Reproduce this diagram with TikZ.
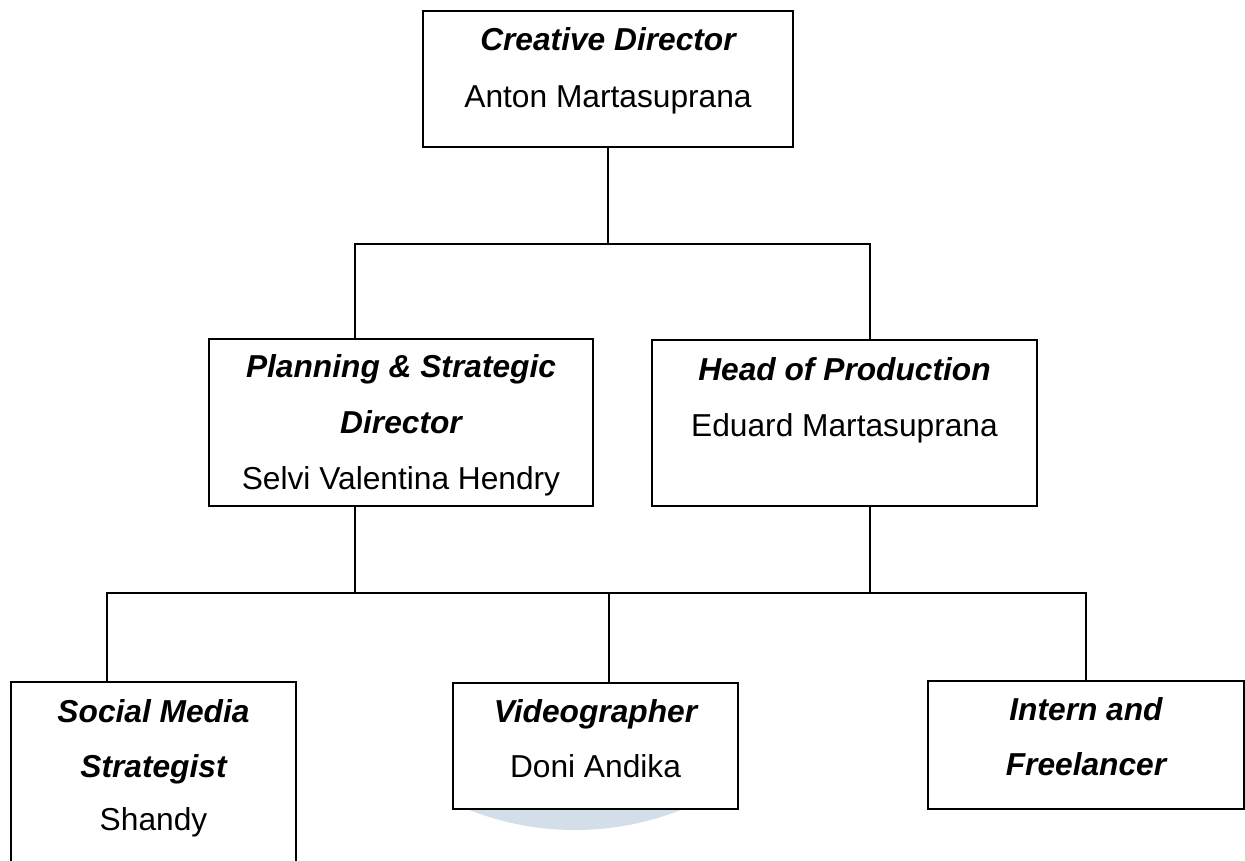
\documentclass[tikz,border=0pt]{standalone}
\usepackage{fontspec}
\setmainfont{Liberation Sans}
\begin{document}
\begin{tikzpicture}[x=1pt,y=-1pt,
  box/.style={draw, line width=1.3pt, inner sep=0pt},
  ln/.style={line width=1.2pt},
  tt/.style={anchor=base, inner sep=0pt, font=\fontsize{31.7}{38}\selectfont\bfseries\itshape},
  nm/.style={anchor=base, inner sep=0pt, font=\fontsize{31.7}{38}\selectfont},
  wm/.style={fill={rgb,255:red,211;green,222;blue,232}}]
\useasboundingbox (0,0) rectangle (1245,860);
\clip (0,0) rectangle (1245,860);
% faint watermark arc
\begin{scope}
  \clip (0,809) rectangle (1245,860);
  \fill[wm] (575,542) circle[radius=288pt];
\end{scope}
% boxes
\node[box, minimum width=370pt, minimum height=136pt] (cd) at (608,79) {};
\node[box, minimum width=384pt, minimum height=167pt] (ps) at (401,422.5) {};
\node[box, minimum width=385pt, minimum height=166pt] (hp) at (844.5,423) {};
\node[box, minimum width=285pt, minimum height=198pt] (sm) at (153.5,781) {};
\node[box, minimum width=285pt, minimum height=126pt] (vg) at (595.5,746) {};
\node[box, minimum width=316pt, minimum height=128pt] (il) at (1086,745) {};
% texts
\node[tt] (cd1) at (608,50) {Creative Director};
\node[nm] (cd2) at (608,107) {Anton Martasuprana};
\node[tt] (ps1) at (401,377) {Planning \& Strategic};
\node[tt] (ps2) at (401,433) {Director};
\node[nm] (ps3) at (401,489) {Selvi Valentina Hendry};
\node[tt] (hp1) at (844.5,380) {Head of Production};
\node[nm] (hp2) at (844.5,436) {Eduard Martasuprana};
\node[tt] (sm1) at (153.5,722) {Social Media};
\node[tt] (sm2) at (153.5,777) {Strategist};
\node[nm] (sm3) at (153.5,830) {Shandy};
\node[tt] (vg1) at (595.5,722) {Videographer};
\node[nm] (vg2) at (595.5,777) {Doni Andika};
\node[tt] (il1) at (1086,720) {Intern and};
\node[tt] (il2) at (1086,775) {Freelancer};
% connectors
\coordinate (j1) at (608,244);
\coordinate (b1) at (355,244);
\coordinate (b2) at (870,244);
\draw[ln] (cd.south) -- (j1);
\draw[ln] (ps.north -| b1) |- (b2) -- (b2 |- hp.north);
\coordinate (c1) at (107,593);
\coordinate (c2) at (1086,593);
\coordinate (c3) at (355,593);
\coordinate (c4) at (870,593);
\coordinate (c5) at (609,593);
\draw[ln] (sm.north -| c1) |- (c2) -- (c2 |- il.north);
\draw[ln] (ps.south -| c3) -- (c3);
\draw[ln] (hp.south -| c4) -- (c4);
\draw[ln] (c5) -- (c5 |- vg.north);
\end{tikzpicture}
\end{document}
